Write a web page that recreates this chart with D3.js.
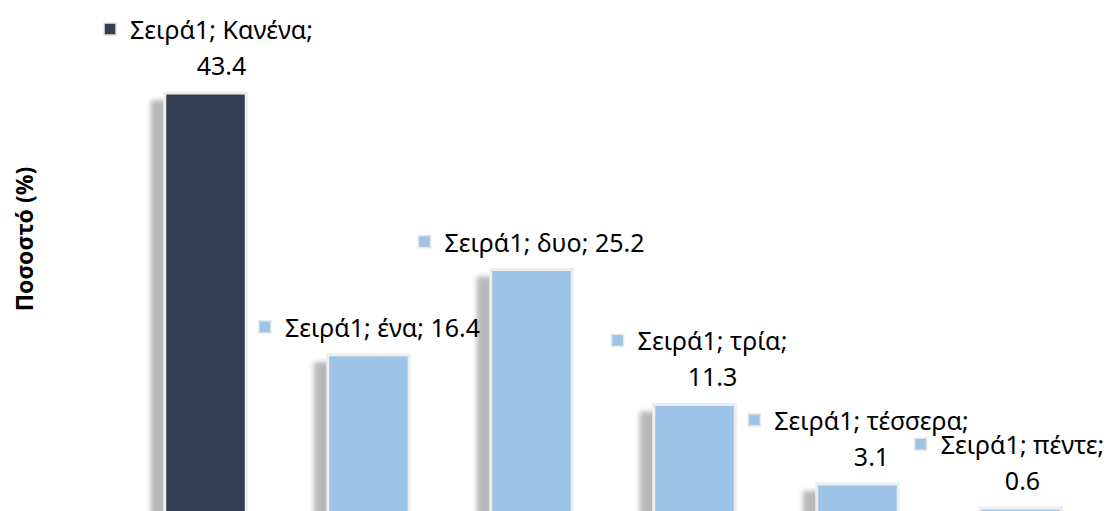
<!DOCTYPE html>
<html lang="el">
<head>
<meta charset="utf-8">
<script src="https://cdn.jsdelivr.net/npm/d3@7"></script>
<style>
  html, body { margin: 0; padding: 0; background: #fff; }
  svg { display: block; }
  text { font-family: "Noto Sans", "Open Sans", "DejaVu Sans", sans-serif; fill: #000; }
</style>
</head>
<body>
<div id="chart"></div>
<script>
// Share of households by number of items (%)
const seriesName = "Σειρά1";
const categories = ["Κανένα", "ένα", "δυο", "τρία", "τέσσερα", "πέντε"];
const values = [43.4, 16.4, 25.2, 11.3, 3.1, 0.6];
const barColors = ["#333f50", "#9dc3e6", "#9dc3e6", "#9dc3e6", "#9dc3e6", "#9dc3e6"];
// whether the value goes on a second line of the data label
const labelWraps = [true, false, false, true, true, true];
const yTitle = "Ποσοστό (%)";

// layout
const W = 1114, H = 511;
const labelShift = [3, 1, 0, 5, 1, -11];   // horizontal nudge of each data label block
const fontSize = 25;
const lineGap = 36;
const keySize = 12, keyGap = 14;

const svg = d3.select("#chart").append("svg")
  .attr("width", W).attr("height", H)
  .attr("viewBox", `0 0 ${W} ${H}`);

svg.append("rect").attr("width", W).attr("height", H).attr("fill", "#fff");

const defs = svg.append("defs");
defs.append("filter").attr("id", "soft").attr("x", "-30%").attr("y", "-10%")
  .attr("width", "160%").attr("height", "120%")
  .append("feGaussianBlur").attr("stdDeviation", 2.6);

const x = d3.scaleBand().domain(categories).range([124, 1102])
  .paddingInner(0.5).paddingOuter(0.25);
const y = d3.scaleLinear().domain([0, 50]).range([514, 29]);

const data = categories.map((c, i) => ({ cat: c, v: values[i], color: barColors[i], wrap: labelWraps[i], shift: labelShift[i] }));

// shadows
svg.append("g").selectAll("rect").data(data).join("rect")
  .attr("x", d => x(d.cat) - 14)
  .attr("y", d => y(d.v) + 7)
  .attr("width", x.bandwidth())
  .attr("height", d => y(0) - y(d.v) + 20)
  .attr("fill", "#b8b8b8")
  .attr("filter", "url(#soft)");

// bars
svg.append("g").selectAll("rect").data(data).join("rect")
  .attr("x", d => x(d.cat))
  .attr("y", d => y(d.v))
  .attr("width", x.bandwidth())
  .attr("height", d => y(0) - y(d.v) + 20)
  .attr("fill", d => d.color)
  .attr("stroke", "#eeeeee")
  .attr("stroke-width", 3);

// y-axis title
svg.append("text")
  .attr("transform", `translate(33,239) rotate(-90)`)
  .attr("text-anchor", "middle")
  .attr("font-weight", "bold")
  .attr("font-size", 23)
  .text(yTitle);

// data labels
const labels = svg.append("g");
data.forEach(d => {
  const lines = d.wrap
    ? [`${seriesName}; ${d.cat};`, `${d.v.toFixed(1)}`]
    : [`${seriesName}; ${d.cat}; ${d.v.toFixed(1)}`];
  const g = labels.append("g");
  const lastY = y(d.v) - 28;
  const firstY = lastY - (lines.length - 1) * lineGap;

  const t1 = g.append("text")
    .attr("font-size", fontSize)
    .attr("dominant-baseline", "central")
    .attr("y", firstY)
    .text(lines[0]);
  const w1 = t1.node().getComputedTextLength();
  const blockW = keySize + keyGap + w1;
  const cx = x(d.cat) + x.bandwidth() / 2 + d.shift;
  let left = cx - blockW / 2;
  if (left + blockW > W - 6) left = W - 6 - blockW;
  const textX = left + keySize + keyGap;
  t1.attr("x", textX);

  g.append("rect")
    .attr("x", left).attr("y", firstY - keySize / 2)
    .attr("width", keySize).attr("height", keySize)
    .attr("fill", d.color)
    .attr("stroke", "#e6e6e6").attr("stroke-width", 1.5);

  if (lines.length > 1) {
    g.append("text")
      .attr("font-size", fontSize)
      .attr("dominant-baseline", "central")
      .attr("text-anchor", "middle")
      .attr("x", textX + w1 / 2)
      .attr("y", lastY)
      .text(lines[1]);
  }
});
</script>
</body>
</html>
